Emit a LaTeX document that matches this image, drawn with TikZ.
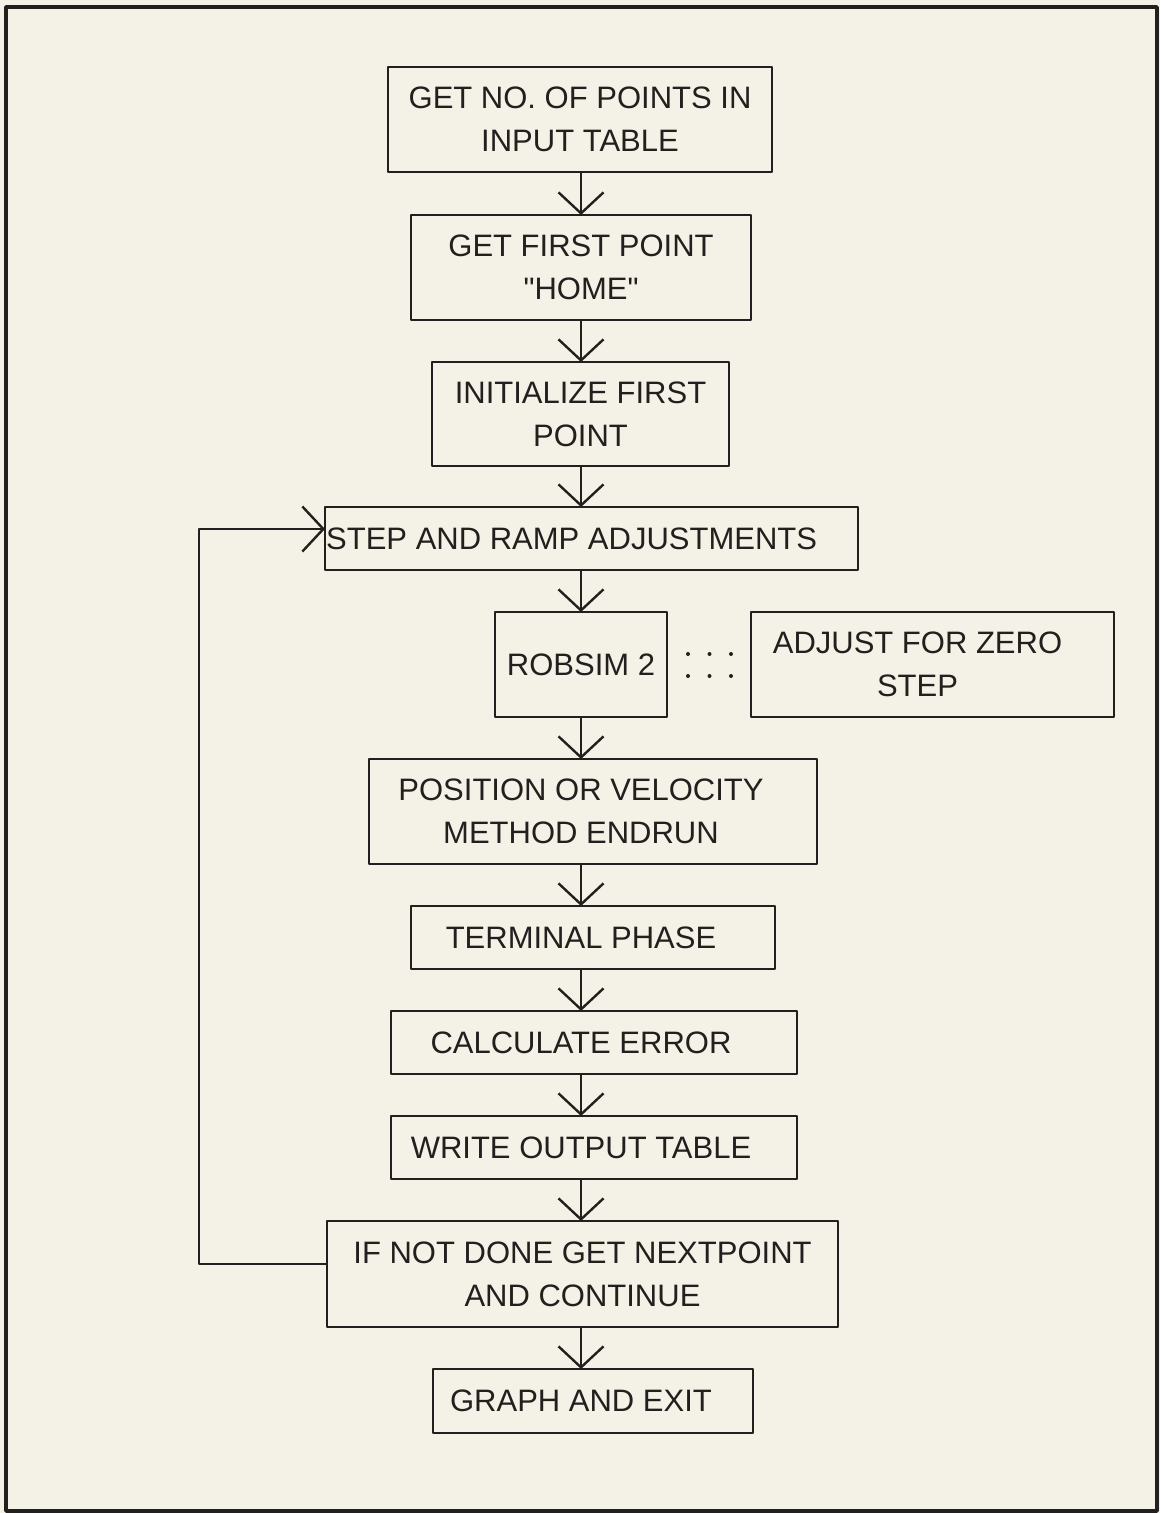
\documentclass[tikz,border=0pt]{standalone}
\usepackage{fontspec}
\setmainfont{Liberation Sans}
\usetikzlibrary{arrows.meta}
\definecolor{paper}{RGB}{244,242,231}
\definecolor{ink}{RGB}{34,32,30}

\begin{document}
\begin{tikzpicture}[x=1pt,y=-1pt,line join=round,
	font=\fontsize{31}{43}\selectfont,
	box/.style={rectangle,draw=ink,line width=2.6pt,inner sep=0,outer sep=0,text=ink,align=center},
	txt/.style={inner sep=0,text=ink,align=center},
	flow/.style={draw=ink,line width=2.4pt,-{Straight Barb[length=21pt,width=45pt,line width=2.4pt]}},
	dots/.style={draw=ink,line width=4pt,line cap=round,dash pattern=on 0pt off 21.5pt}]
	\useasboundingbox (0,0) rectangle (1160,1513);
	\fill[paper] (0,0) rectangle (1160,1513);
	\draw[ink,line width=3.5pt] (6,7) rectangle (1157,1511);
	\coordinate (axis) at (581,0);
	\coordinate (loop) at (199,0);
	% main column of boxes
	\path (580,119.5) node[box,minimum width=384pt,minimum height=105pt](a){GET NO. OF POINTS IN\\INPUT TABLE};
	\path (581,267.5) node[box,minimum width=340pt,minimum height=105pt](b){GET FIRST POINT\\\textquotedbl HOME\textquotedbl};
	\path (580.5,414) node[box,minimum width=297pt,minimum height=104pt](c){INITIALIZE FIRST\\POINT};
	\path (591.5,538.5) node[box,minimum width=533pt,minimum height=63pt](d){};
	\path (d.west) node[txt,anchor=west,xshift=1pt](dt){STEP AND RAMP ADJUSTMENTS};
	\path (581,664.5) node[box,minimum width=172pt,minimum height=105pt](e){ROBSIM 2};
	\path (932.5,664.5) node[box,minimum width=363pt,minimum height=105pt](f){};
	\path ([xshift=-15pt]f.center) node[txt](ft){ADJUST FOR ZERO\\STEP};
	\path (593,811.5) node[box,minimum width=448pt,minimum height=105pt](g){};
	\path (g.center-|axis) node[txt](gt){POSITION OR VELOCITY\\METHOD ENDRUN};
	\path (593,937.5) node[box,minimum width=364pt,minimum height=63pt](h){};
	\path (h.center-|axis) node[txt](ht){TERMINAL PHASE};
	\path (594,1042.5) node[box,minimum width=406pt,minimum height=63pt](i){};
	\path (i.center-|axis) node[txt](it){CALCULATE ERROR};
	\path (594,1147.5) node[box,minimum width=406pt,minimum height=63pt](j){};
	\path (j.center-|axis) node[txt](jt){WRITE OUTPUT TABLE};
	\path (582.5,1274) node[box,minimum width=511pt,minimum height=106pt](k){IF NOT DONE GET NEXTPOINT\\AND CONTINUE};
	\path (593,1401) node[box,minimum width=320pt,minimum height=64pt](l){};
	\path (l.center-|axis) node[txt](lt){GRAPH AND EXIT};
	% arrows down the column
	\foreach \u/\v in {a/b,b/c,c/d,d/e,e/g,g/h,h/i,i/j,j/k,k/l}
	\draw[flow](\u.south-|axis)--(\v.north-|axis);
	% loop back
	\draw[flow]([yshift=10pt]k.west)--([yshift=10pt]k.west-|loop)
	--([yshift=9.5pt]d.west-|loop)--([yshift=9.5pt]d.west);
	% dotted link to the side box
	\draw[dots]([xshift=21pt,yshift=10.5pt]e.east)--([xshift=-19.5pt,yshift=10.5pt]f.west);
	\draw[dots]([xshift=21pt,yshift=-11.5pt]e.east)--([xshift=-19.5pt,yshift=-11.5pt]f.west);
\end{tikzpicture}
\end{document}
